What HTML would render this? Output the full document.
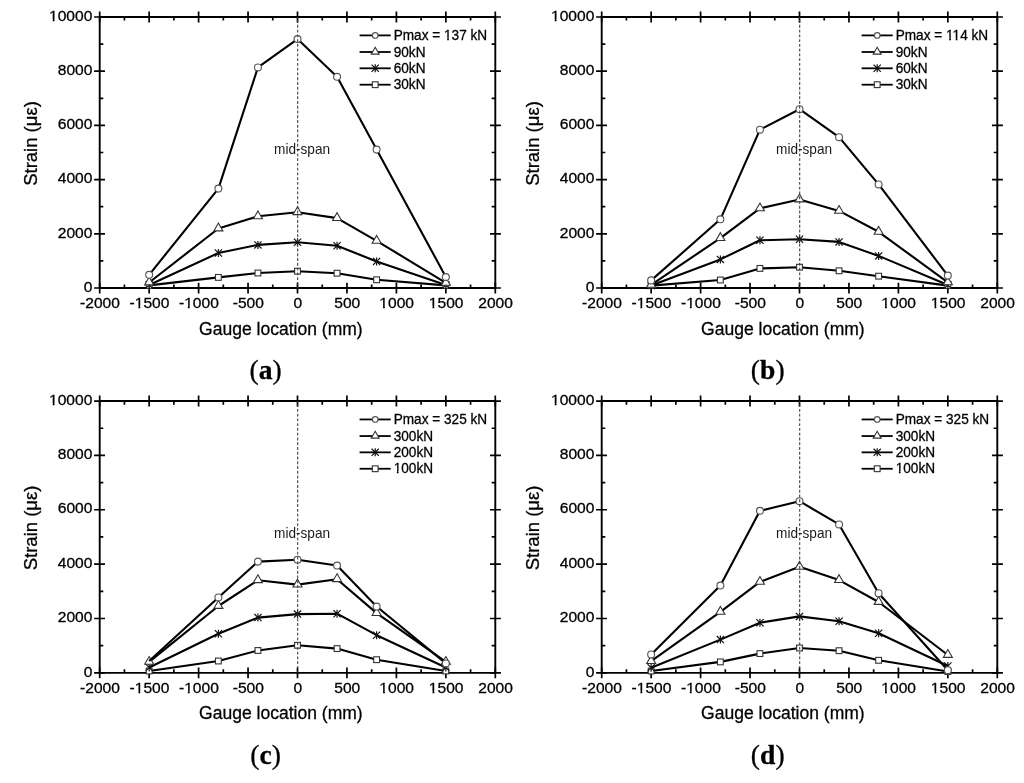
<!DOCTYPE html>
<html><head><meta charset="utf-8"><style>
html,body{margin:0;padding:0;background:#fff;}
svg{display:block;will-change:transform;}
text{font-family:"Liberation Sans", sans-serif;fill:#000;stroke:#000;stroke-width:0.3px;}
.tl{font-size:15.6px;}
.mid{font-size:13.9px;fill:#1a1a1a;stroke:none;}
.lgt{font-size:14.9px;}
.xt{font-size:18.3px;}
.yt{font-size:18.5px;}
.pl{font-family:"Liberation Serif", serif;font-weight:bold;font-size:27.6px;fill:#000;}
.pr{font-weight:normal;}
.ax{fill:none;stroke:#000;stroke-width:1.9;}
.tk{fill:none;stroke:#000;stroke-width:1.7;}
.ln{fill:none;stroke:#000;stroke-width:2.1;stroke-linejoin:round;}
.lg{fill:none;stroke:#000;stroke-width:1.8;}
.mk{fill:#fff;stroke:#333;stroke-width:1.1;}
.mc{stroke:#555;stroke-width:1.15;}
.st{fill:none;stroke:#111;stroke-width:1.2;}
.dash{stroke:#3a3a3a;stroke-width:1.05;stroke-dasharray:2.9 1.86;stroke-dashoffset:1.65;}
</style></head>
<body><svg width="1024" height="783" viewBox="0 0 1024 783">
<rect width="1024" height="783" fill="#fff"/>
<path d="M99.7 17H495.3V288H99.7Z" class="ax"/>
<path d="M99.7 282.7V293.5M99.7 11.4V22.5M149.15 282.7V293.5M149.15 11.4V22.5M198.6 282.7V293.5M198.6 11.4V22.5M248.05 282.7V293.5M248.05 11.4V22.5M297.5 282.7V293.5M297.5 11.4V22.5M346.95 282.7V293.5M346.95 11.4V22.5M396.4 282.7V293.5M396.4 11.4V22.5M445.85 282.7V293.5M445.85 11.4V22.5M495.3 282.7V293.5M495.3 11.4V22.5M124.43 288V284.4M124.43 17V20.6M173.88 288V284.4M173.88 17V20.6M223.32 288V284.4M223.32 17V20.6M272.78 288V284.4M272.78 17V20.6M322.23 288V284.4M322.23 17V20.6M371.68 288V284.4M371.68 17V20.6M421.12 288V284.4M421.12 17V20.6M470.57 288V284.4M470.57 17V20.6M94.1 288H105M490 288H500.9M94.1 233.8H105M490 233.8H500.9M94.1 179.6H105M490 179.6H500.9M94.1 125.4H105M490 125.4H500.9M94.1 71.2H105M490 71.2H500.9M94.1 17H105M490 17H500.9M99.7 260.9H103.3M495.3 260.9H491.7M99.7 206.7H103.3M495.3 206.7H491.7M99.7 152.5H103.3M495.3 152.5H491.7M99.7 98.3H103.3M495.3 98.3H491.7M99.7 44.1H103.3M495.3 44.1H491.7" class="tk"/>
<text transform="translate(100 308.4) scale(1.0 0.98)" class="tl" text-anchor="middle">-2000</text>
<text transform="translate(149.45 308.4) scale(1.0 0.98)" class="tl" text-anchor="middle">-1500</text>
<text transform="translate(198.9 308.4) scale(1.0 0.98)" class="tl" text-anchor="middle">-1000</text>
<text transform="translate(248.35 308.4) scale(1.0 0.98)" class="tl" text-anchor="middle">-500</text>
<text transform="translate(297.8 308.4) scale(1.0 0.98)" class="tl" text-anchor="middle">0</text>
<text transform="translate(347.25 308.4) scale(1.0 0.98)" class="tl" text-anchor="middle">500</text>
<text transform="translate(396.7 308.4) scale(1.0 0.98)" class="tl" text-anchor="middle">1000</text>
<text transform="translate(446.15 308.4) scale(1.0 0.98)" class="tl" text-anchor="middle">1500</text>
<text transform="translate(495.6 308.4) scale(1.0 0.98)" class="tl" text-anchor="middle">2000</text>
<text transform="translate(92.4 291.7) scale(1.0 0.98)" class="tl" text-anchor="end">0</text>
<text transform="translate(92.4 237.5) scale(1.0 0.98)" class="tl" text-anchor="end">2000</text>
<text transform="translate(92.4 183.3) scale(1.0 0.98)" class="tl" text-anchor="end">4000</text>
<text transform="translate(92.4 129.1) scale(1.0 0.98)" class="tl" text-anchor="end">6000</text>
<text transform="translate(92.4 74.9) scale(1.0 0.98)" class="tl" text-anchor="end">8000</text>
<text transform="translate(92.4 20.7) scale(1.0 0.98)" class="tl" text-anchor="end">10000</text>
<path d="M149.15 285.4L218.38 277.4L257.94 273L297.5 271.2L337.06 273.2L376.62 279.8L445.85 285.4" class="ln"/>
<rect x="146.25" y="282.5" width="5.8" height="5.8" class="mk"/>
<rect x="215.48" y="274.5" width="5.8" height="5.8" class="mk"/>
<rect x="255.04" y="270.1" width="5.8" height="5.8" class="mk"/>
<rect x="294.6" y="268.3" width="5.8" height="5.8" class="mk"/>
<rect x="334.16" y="270.3" width="5.8" height="5.8" class="mk"/>
<rect x="373.72" y="276.9" width="5.8" height="5.8" class="mk"/>
<rect x="442.95" y="282.5" width="5.8" height="5.8" class="mk"/>
<path d="M149.15 285L218.38 253L257.94 244.9L297.5 242.2L337.06 245.8L376.62 261.4L445.85 285" class="ln"/>
<path d="M145.55 281.4L152.75 288.6M152.75 281.4L145.55 288.6M149.15 281L149.15 289" class="st"/>
<path d="M214.78 249.4L221.98 256.6M221.98 249.4L214.78 256.6M218.38 249L218.38 257" class="st"/>
<path d="M254.34 241.3L261.54 248.5M261.54 241.3L254.34 248.5M257.94 240.9L257.94 248.9" class="st"/>
<path d="M293.9 238.6L301.1 245.8M301.1 238.6L293.9 245.8M297.5 238.2L297.5 246.2" class="st"/>
<path d="M333.46 242.2L340.66 249.4M340.66 242.2L333.46 249.4M337.06 241.8L337.06 249.8" class="st"/>
<path d="M373.02 257.8L380.22 265M380.22 257.8L373.02 265M376.62 257.4L376.62 265.4" class="st"/>
<path d="M442.25 281.4L449.45 288.6M449.45 281.4L442.25 288.6M445.85 281L445.85 289" class="st"/>
<path d="M149.15 282.5L218.38 228.5L257.94 216.3L297.5 212.2L337.06 218.1L376.62 240.8L445.85 282.9" class="ln"/>
<path d="M149.15 277.1L153.65 284.9L144.65 284.9Z" class="mk"/>
<path d="M218.38 223.1L222.88 230.9L213.88 230.9Z" class="mk"/>
<path d="M257.94 210.9L262.44 218.7L253.44 218.7Z" class="mk"/>
<path d="M297.5 206.8L302 214.6L293 214.6Z" class="mk"/>
<path d="M337.06 212.7L341.56 220.5L332.56 220.5Z" class="mk"/>
<path d="M376.62 235.4L381.12 243.2L372.12 243.2Z" class="mk"/>
<path d="M445.85 277.5L450.35 285.3L441.35 285.3Z" class="mk"/>
<path d="M149.15 274.8L218.38 188.6L257.94 67.4L297.5 39.1L337.06 76.8L376.62 149.6L445.85 277" class="ln"/>
<circle cx="149.15" cy="274.8" r="3.45" class="mk mc"/>
<circle cx="218.38" cy="188.6" r="3.45" class="mk mc"/>
<circle cx="257.94" cy="67.4" r="3.45" class="mk mc"/>
<circle cx="297.5" cy="39.1" r="3.45" class="mk mc"/>
<circle cx="337.06" cy="76.8" r="3.45" class="mk mc"/>
<circle cx="376.62" cy="149.6" r="3.45" class="mk mc"/>
<circle cx="445.85" cy="277" r="3.45" class="mk mc"/>
<line x1="297.7" y1="17" x2="297.7" y2="288" class="dash"/>
<text transform="translate(274.1 153.8) scale(0.98 1.0)" class="mid">mid-span</text>
<path d="M359.6 35.4H390.7" class="lg"/>
<circle cx="375.2" cy="35.4" r="2.83" class="mk mc"/>
<text transform="translate(393.7 39.9) scale(0.914 1.0)" class="lgt">Pmax = 137 kN</text>
<path d="M359.6 52H390.7" class="lg"/>
<path d="M375.2 47.25L379.16 54.11L371.24 54.11Z" class="mk"/>
<text transform="translate(393.7 56.5) scale(0.914 1.0)" class="lgt">90kN</text>
<path d="M359.6 68.3H390.7" class="lg"/>
<path d="M371.6 64.7L378.8 71.9M378.8 64.7L371.6 71.9M375.2 64.3L375.2 72.3" class="st"/>
<text transform="translate(393.7 72.8) scale(0.914 1.0)" class="lgt">60kN</text>
<path d="M359.6 84.7H390.7" class="lg"/>
<rect x="372.3" y="81.8" width="5.8" height="5.8" class="mk"/>
<text transform="translate(393.7 89.2) scale(0.914 1.0)" class="lgt">30kN</text>
<text transform="translate(199.1 334.7) scale(0.958 1.0)" class="xt">Gauge location (mm)</text>
<text transform="translate(36.5 143.5) rotate(-90)" class="yt" text-anchor="middle">Strain (με)</text>
<text x="265.7" y="379.2" class="pl" text-anchor="middle"><tspan class="pr">(</tspan>a<tspan class="pr">)</tspan></text>
<path d="M601.7 17H997.3V288H601.7Z" class="ax"/>
<path d="M601.7 282.7V293.5M601.7 11.4V22.5M651.15 282.7V293.5M651.15 11.4V22.5M700.6 282.7V293.5M700.6 11.4V22.5M750.05 282.7V293.5M750.05 11.4V22.5M799.5 282.7V293.5M799.5 11.4V22.5M848.95 282.7V293.5M848.95 11.4V22.5M898.4 282.7V293.5M898.4 11.4V22.5M947.85 282.7V293.5M947.85 11.4V22.5M997.3 282.7V293.5M997.3 11.4V22.5M626.43 288V284.4M626.43 17V20.6M675.88 288V284.4M675.88 17V20.6M725.33 288V284.4M725.33 17V20.6M774.77 288V284.4M774.77 17V20.6M824.23 288V284.4M824.23 17V20.6M873.67 288V284.4M873.67 17V20.6M923.12 288V284.4M923.12 17V20.6M972.57 288V284.4M972.57 17V20.6M596.1 288H607M992 288H1002.9M596.1 233.8H607M992 233.8H1002.9M596.1 179.6H607M992 179.6H1002.9M596.1 125.4H607M992 125.4H1002.9M596.1 71.2H607M992 71.2H1002.9M596.1 17H607M992 17H1002.9M601.7 260.9H605.3M997.3 260.9H993.7M601.7 206.7H605.3M997.3 206.7H993.7M601.7 152.5H605.3M997.3 152.5H993.7M601.7 98.3H605.3M997.3 98.3H993.7M601.7 44.1H605.3M997.3 44.1H993.7" class="tk"/>
<text transform="translate(602 308.4) scale(1.0 0.98)" class="tl" text-anchor="middle">-2000</text>
<text transform="translate(651.45 308.4) scale(1.0 0.98)" class="tl" text-anchor="middle">-1500</text>
<text transform="translate(700.9 308.4) scale(1.0 0.98)" class="tl" text-anchor="middle">-1000</text>
<text transform="translate(750.35 308.4) scale(1.0 0.98)" class="tl" text-anchor="middle">-500</text>
<text transform="translate(799.8 308.4) scale(1.0 0.98)" class="tl" text-anchor="middle">0</text>
<text transform="translate(849.25 308.4) scale(1.0 0.98)" class="tl" text-anchor="middle">500</text>
<text transform="translate(898.7 308.4) scale(1.0 0.98)" class="tl" text-anchor="middle">1000</text>
<text transform="translate(948.15 308.4) scale(1.0 0.98)" class="tl" text-anchor="middle">1500</text>
<text transform="translate(997.6 308.4) scale(1.0 0.98)" class="tl" text-anchor="middle">2000</text>
<text transform="translate(594.4 291.7) scale(1.0 0.98)" class="tl" text-anchor="end">0</text>
<text transform="translate(594.4 237.5) scale(1.0 0.98)" class="tl" text-anchor="end">2000</text>
<text transform="translate(594.4 183.3) scale(1.0 0.98)" class="tl" text-anchor="end">4000</text>
<text transform="translate(594.4 129.1) scale(1.0 0.98)" class="tl" text-anchor="end">6000</text>
<text transform="translate(594.4 74.9) scale(1.0 0.98)" class="tl" text-anchor="end">8000</text>
<text transform="translate(594.4 20.7) scale(1.0 0.98)" class="tl" text-anchor="end">10000</text>
<path d="M651.15 285.6L720.38 280L759.94 268.4L799.5 267.2L839.06 270.8L878.62 276.2L947.85 285.6" class="ln"/>
<rect x="648.25" y="282.7" width="5.8" height="5.8" class="mk"/>
<rect x="717.48" y="277.1" width="5.8" height="5.8" class="mk"/>
<rect x="757.04" y="265.5" width="5.8" height="5.8" class="mk"/>
<rect x="796.6" y="264.3" width="5.8" height="5.8" class="mk"/>
<rect x="836.16" y="267.9" width="5.8" height="5.8" class="mk"/>
<rect x="875.72" y="273.3" width="5.8" height="5.8" class="mk"/>
<rect x="944.95" y="282.7" width="5.8" height="5.8" class="mk"/>
<path d="M651.15 285.5L720.38 259.4L759.94 240.3L799.5 239.2L839.06 241.9L878.62 255.9L947.85 285" class="ln"/>
<path d="M647.55 281.9L654.75 289.1M654.75 281.9L647.55 289.1M651.15 281.5L651.15 289.5" class="st"/>
<path d="M716.78 255.8L723.98 263M723.98 255.8L716.78 263M720.38 255.4L720.38 263.4" class="st"/>
<path d="M756.34 236.7L763.54 243.9M763.54 236.7L756.34 243.9M759.94 236.3L759.94 244.3" class="st"/>
<path d="M795.9 235.6L803.1 242.8M803.1 235.6L795.9 242.8M799.5 235.2L799.5 243.2" class="st"/>
<path d="M835.46 238.3L842.66 245.5M842.66 238.3L835.46 245.5M839.06 237.9L839.06 245.9" class="st"/>
<path d="M875.02 252.3L882.22 259.5M882.22 252.3L875.02 259.5M878.62 251.9L878.62 259.9" class="st"/>
<path d="M944.25 281.4L951.45 288.6M951.45 281.4L944.25 288.6M947.85 281L947.85 289" class="st"/>
<path d="M651.15 284.9L720.38 238.1L759.94 208.4L799.5 199.5L839.06 210.9L878.62 231.8L947.85 282.4" class="ln"/>
<path d="M651.15 279.5L655.65 287.3L646.65 287.3Z" class="mk"/>
<path d="M720.38 232.7L724.88 240.5L715.88 240.5Z" class="mk"/>
<path d="M759.94 203L764.44 210.8L755.44 210.8Z" class="mk"/>
<path d="M799.5 194.1L804 201.9L795 201.9Z" class="mk"/>
<path d="M839.06 205.5L843.56 213.3L834.56 213.3Z" class="mk"/>
<path d="M878.62 226.4L883.12 234.2L874.12 234.2Z" class="mk"/>
<path d="M947.85 277L952.35 284.8L943.35 284.8Z" class="mk"/>
<path d="M651.15 280.4L720.38 219.3L759.94 129.7L799.5 109.2L839.06 137.2L878.62 184.4L947.85 275.6" class="ln"/>
<circle cx="651.15" cy="280.4" r="3.45" class="mk mc"/>
<circle cx="720.38" cy="219.3" r="3.45" class="mk mc"/>
<circle cx="759.94" cy="129.7" r="3.45" class="mk mc"/>
<circle cx="799.5" cy="109.2" r="3.45" class="mk mc"/>
<circle cx="839.06" cy="137.2" r="3.45" class="mk mc"/>
<circle cx="878.62" cy="184.4" r="3.45" class="mk mc"/>
<circle cx="947.85" cy="275.6" r="3.45" class="mk mc"/>
<line x1="799.7" y1="17" x2="799.7" y2="288" class="dash"/>
<text transform="translate(776.1 153.8) scale(0.98 1.0)" class="mid">mid-span</text>
<path d="M861.6 35.4H892.7" class="lg"/>
<circle cx="877.2" cy="35.4" r="2.83" class="mk mc"/>
<text transform="translate(895.7 39.9) scale(0.914 1.0)" class="lgt">Pmax = 114 kN</text>
<path d="M861.6 52H892.7" class="lg"/>
<path d="M877.2 47.25L881.16 54.11L873.24 54.11Z" class="mk"/>
<text transform="translate(895.7 56.5) scale(0.914 1.0)" class="lgt">90kN</text>
<path d="M861.6 68.3H892.7" class="lg"/>
<path d="M873.6 64.7L880.8 71.9M880.8 64.7L873.6 71.9M877.2 64.3L877.2 72.3" class="st"/>
<text transform="translate(895.7 72.8) scale(0.914 1.0)" class="lgt">60kN</text>
<path d="M861.6 84.7H892.7" class="lg"/>
<rect x="874.3" y="81.8" width="5.8" height="5.8" class="mk"/>
<text transform="translate(895.7 89.2) scale(0.914 1.0)" class="lgt">30kN</text>
<text transform="translate(701.1 334.7) scale(0.958 1.0)" class="xt">Gauge location (mm)</text>
<text transform="translate(538.5 143.5) rotate(-90)" class="yt" text-anchor="middle">Strain (με)</text>
<text x="767.7" y="379.2" class="pl" text-anchor="middle"><tspan class="pr">(</tspan>b<tspan class="pr">)</tspan></text>
<path d="M99.7 401.05H495.3V672.85H99.7Z" class="ax"/>
<path d="M99.7 667.55V678.35M99.7 395.45V406.55M149.15 667.55V678.35M149.15 395.45V406.55M198.6 667.55V678.35M198.6 395.45V406.55M248.05 667.55V678.35M248.05 395.45V406.55M297.5 667.55V678.35M297.5 395.45V406.55M346.95 667.55V678.35M346.95 395.45V406.55M396.4 667.55V678.35M396.4 395.45V406.55M445.85 667.55V678.35M445.85 395.45V406.55M495.3 667.55V678.35M495.3 395.45V406.55M124.43 672.85V669.25M124.43 401.05V404.65M173.88 672.85V669.25M173.88 401.05V404.65M223.32 672.85V669.25M223.32 401.05V404.65M272.78 672.85V669.25M272.78 401.05V404.65M322.23 672.85V669.25M322.23 401.05V404.65M371.68 672.85V669.25M371.68 401.05V404.65M421.12 672.85V669.25M421.12 401.05V404.65M470.57 672.85V669.25M470.57 401.05V404.65M94.1 672.85H105M490 672.85H500.9M94.1 618.49H105M490 618.49H500.9M94.1 564.13H105M490 564.13H500.9M94.1 509.77H105M490 509.77H500.9M94.1 455.41H105M490 455.41H500.9M94.1 401.05H105M490 401.05H500.9M99.7 645.67H103.3M495.3 645.67H491.7M99.7 591.31H103.3M495.3 591.31H491.7M99.7 536.95H103.3M495.3 536.95H491.7M99.7 482.59H103.3M495.3 482.59H491.7M99.7 428.23H103.3M495.3 428.23H491.7" class="tk"/>
<text transform="translate(100 692.75) scale(1.0 0.98)" class="tl" text-anchor="middle">-2000</text>
<text transform="translate(149.45 692.75) scale(1.0 0.98)" class="tl" text-anchor="middle">-1500</text>
<text transform="translate(198.9 692.75) scale(1.0 0.98)" class="tl" text-anchor="middle">-1000</text>
<text transform="translate(248.35 692.75) scale(1.0 0.98)" class="tl" text-anchor="middle">-500</text>
<text transform="translate(297.8 692.75) scale(1.0 0.98)" class="tl" text-anchor="middle">0</text>
<text transform="translate(347.25 692.75) scale(1.0 0.98)" class="tl" text-anchor="middle">500</text>
<text transform="translate(396.7 692.75) scale(1.0 0.98)" class="tl" text-anchor="middle">1000</text>
<text transform="translate(446.15 692.75) scale(1.0 0.98)" class="tl" text-anchor="middle">1500</text>
<text transform="translate(495.6 692.75) scale(1.0 0.98)" class="tl" text-anchor="middle">2000</text>
<text transform="translate(92.4 676.55) scale(1.0 0.98)" class="tl" text-anchor="end">0</text>
<text transform="translate(92.4 622.19) scale(1.0 0.98)" class="tl" text-anchor="end">2000</text>
<text transform="translate(92.4 567.83) scale(1.0 0.98)" class="tl" text-anchor="end">4000</text>
<text transform="translate(92.4 513.47) scale(1.0 0.98)" class="tl" text-anchor="end">6000</text>
<text transform="translate(92.4 459.11) scale(1.0 0.98)" class="tl" text-anchor="end">8000</text>
<text transform="translate(92.4 404.75) scale(1.0 0.98)" class="tl" text-anchor="end">10000</text>
<path d="M149.15 671L218.38 661L257.94 650.5L297.5 645.3L337.06 648.6L376.62 659.7L445.85 671" class="ln"/>
<rect x="146.25" y="668.1" width="5.8" height="5.8" class="mk"/>
<rect x="215.48" y="658.1" width="5.8" height="5.8" class="mk"/>
<rect x="255.04" y="647.6" width="5.8" height="5.8" class="mk"/>
<rect x="294.6" y="642.4" width="5.8" height="5.8" class="mk"/>
<rect x="334.16" y="645.7" width="5.8" height="5.8" class="mk"/>
<rect x="373.72" y="656.8" width="5.8" height="5.8" class="mk"/>
<rect x="442.95" y="668.1" width="5.8" height="5.8" class="mk"/>
<path d="M149.15 667.5L218.38 633.8L257.94 617.6L297.5 614.1L337.06 613.7L376.62 635.2L445.85 667.5" class="ln"/>
<path d="M145.55 663.9L152.75 671.1M152.75 663.9L145.55 671.1M149.15 663.5L149.15 671.5" class="st"/>
<path d="M214.78 630.2L221.98 637.4M221.98 630.2L214.78 637.4M218.38 629.8L218.38 637.8" class="st"/>
<path d="M254.34 614L261.54 621.2M261.54 614L254.34 621.2M257.94 613.6L257.94 621.6" class="st"/>
<path d="M293.9 610.5L301.1 617.7M301.1 610.5L293.9 617.7M297.5 610.1L297.5 618.1" class="st"/>
<path d="M333.46 610.1L340.66 617.3M340.66 610.1L333.46 617.3M337.06 609.7L337.06 617.7" class="st"/>
<path d="M373.02 631.6L380.22 638.8M380.22 631.6L373.02 638.8M376.62 631.2L376.62 639.2" class="st"/>
<path d="M442.25 663.9L449.45 671.1M449.45 663.9L442.25 671.1M445.85 663.5L445.85 671.5" class="st"/>
<path d="M149.15 661.9L218.38 606L257.94 580.2L297.5 584.6L337.06 579.2L376.62 613.1L445.85 661.9" class="ln"/>
<path d="M149.15 656.5L153.65 664.3L144.65 664.3Z" class="mk"/>
<path d="M218.38 600.6L222.88 608.4L213.88 608.4Z" class="mk"/>
<path d="M257.94 574.8L262.44 582.6L253.44 582.6Z" class="mk"/>
<path d="M297.5 579.2L302 587L293 587Z" class="mk"/>
<path d="M337.06 573.8L341.56 581.6L332.56 581.6Z" class="mk"/>
<path d="M376.62 607.7L381.12 615.5L372.12 615.5Z" class="mk"/>
<path d="M445.85 656.5L450.35 664.3L441.35 664.3Z" class="mk"/>
<path d="M149.15 661L218.38 597.4L257.94 561.6L297.5 559.7L337.06 565.5L376.62 606.5L445.85 663.4" class="ln"/>
<circle cx="218.38" cy="597.4" r="3.45" class="mk mc"/>
<circle cx="257.94" cy="561.6" r="3.45" class="mk mc"/>
<circle cx="297.5" cy="559.7" r="3.45" class="mk mc"/>
<circle cx="337.06" cy="565.5" r="3.45" class="mk mc"/>
<circle cx="376.62" cy="606.5" r="3.45" class="mk mc"/>
<circle cx="445.85" cy="663.4" r="3.45" class="mk mc"/>
<line x1="297.7" y1="401.05" x2="297.7" y2="672.85" class="dash"/>
<text transform="translate(274.1 537.85) scale(0.98 1.0)" class="mid">mid-span</text>
<path d="M359.6 419.45H390.7" class="lg"/>
<circle cx="375.2" cy="419.45" r="2.83" class="mk mc"/>
<text transform="translate(393.7 423.95) scale(0.914 1.0)" class="lgt">Pmax = 325 kN</text>
<path d="M359.6 436.05H390.7" class="lg"/>
<path d="M375.2 431.3L379.16 438.16L371.24 438.16Z" class="mk"/>
<text transform="translate(393.7 440.55) scale(0.914 1.0)" class="lgt">300kN</text>
<path d="M359.6 452.35H390.7" class="lg"/>
<path d="M371.6 448.75L378.8 455.95M378.8 448.75L371.6 455.95M375.2 448.35L375.2 456.35" class="st"/>
<text transform="translate(393.7 456.85) scale(0.914 1.0)" class="lgt">200kN</text>
<path d="M359.6 468.75H390.7" class="lg"/>
<rect x="372.3" y="465.85" width="5.8" height="5.8" class="mk"/>
<text transform="translate(393.7 473.25) scale(0.914 1.0)" class="lgt">100kN</text>
<text transform="translate(199.1 719.05) scale(0.958 1.0)" class="xt">Gauge location (mm)</text>
<text transform="translate(36.5 527.95) rotate(-90)" class="yt" text-anchor="middle">Strain (με)</text>
<text x="265.7" y="764.05" class="pl" text-anchor="middle"><tspan class="pr">(</tspan>c<tspan class="pr">)</tspan></text>
<path d="M601.7 401.05H997.3V672.85H601.7Z" class="ax"/>
<path d="M601.7 667.55V678.35M601.7 395.45V406.55M651.15 667.55V678.35M651.15 395.45V406.55M700.6 667.55V678.35M700.6 395.45V406.55M750.05 667.55V678.35M750.05 395.45V406.55M799.5 667.55V678.35M799.5 395.45V406.55M848.95 667.55V678.35M848.95 395.45V406.55M898.4 667.55V678.35M898.4 395.45V406.55M947.85 667.55V678.35M947.85 395.45V406.55M997.3 667.55V678.35M997.3 395.45V406.55M626.43 672.85V669.25M626.43 401.05V404.65M675.88 672.85V669.25M675.88 401.05V404.65M725.33 672.85V669.25M725.33 401.05V404.65M774.77 672.85V669.25M774.77 401.05V404.65M824.23 672.85V669.25M824.23 401.05V404.65M873.67 672.85V669.25M873.67 401.05V404.65M923.12 672.85V669.25M923.12 401.05V404.65M972.57 672.85V669.25M972.57 401.05V404.65M596.1 672.85H607M992 672.85H1002.9M596.1 618.49H607M992 618.49H1002.9M596.1 564.13H607M992 564.13H1002.9M596.1 509.77H607M992 509.77H1002.9M596.1 455.41H607M992 455.41H1002.9M596.1 401.05H607M992 401.05H1002.9M601.7 645.67H605.3M997.3 645.67H993.7M601.7 591.31H605.3M997.3 591.31H993.7M601.7 536.95H605.3M997.3 536.95H993.7M601.7 482.59H605.3M997.3 482.59H993.7M601.7 428.23H605.3M997.3 428.23H993.7" class="tk"/>
<text transform="translate(602 692.75) scale(1.0 0.98)" class="tl" text-anchor="middle">-2000</text>
<text transform="translate(651.45 692.75) scale(1.0 0.98)" class="tl" text-anchor="middle">-1500</text>
<text transform="translate(700.9 692.75) scale(1.0 0.98)" class="tl" text-anchor="middle">-1000</text>
<text transform="translate(750.35 692.75) scale(1.0 0.98)" class="tl" text-anchor="middle">-500</text>
<text transform="translate(799.8 692.75) scale(1.0 0.98)" class="tl" text-anchor="middle">0</text>
<text transform="translate(849.25 692.75) scale(1.0 0.98)" class="tl" text-anchor="middle">500</text>
<text transform="translate(898.7 692.75) scale(1.0 0.98)" class="tl" text-anchor="middle">1000</text>
<text transform="translate(948.15 692.75) scale(1.0 0.98)" class="tl" text-anchor="middle">1500</text>
<text transform="translate(997.6 692.75) scale(1.0 0.98)" class="tl" text-anchor="middle">2000</text>
<text transform="translate(594.4 676.55) scale(1.0 0.98)" class="tl" text-anchor="end">0</text>
<text transform="translate(594.4 622.19) scale(1.0 0.98)" class="tl" text-anchor="end">2000</text>
<text transform="translate(594.4 567.83) scale(1.0 0.98)" class="tl" text-anchor="end">4000</text>
<text transform="translate(594.4 513.47) scale(1.0 0.98)" class="tl" text-anchor="end">6000</text>
<text transform="translate(594.4 459.11) scale(1.0 0.98)" class="tl" text-anchor="end">8000</text>
<text transform="translate(594.4 404.75) scale(1.0 0.98)" class="tl" text-anchor="end">10000</text>
<path d="M651.15 671L720.38 661.9L759.94 653.6L799.5 648L839.06 650.7L878.62 660.3L947.85 671.5" class="ln"/>
<rect x="648.25" y="668.1" width="5.8" height="5.8" class="mk"/>
<rect x="717.48" y="659" width="5.8" height="5.8" class="mk"/>
<rect x="757.04" y="650.7" width="5.8" height="5.8" class="mk"/>
<rect x="796.6" y="645.1" width="5.8" height="5.8" class="mk"/>
<rect x="836.16" y="647.8" width="5.8" height="5.8" class="mk"/>
<rect x="875.72" y="657.4" width="5.8" height="5.8" class="mk"/>
<rect x="944.95" y="668.6" width="5.8" height="5.8" class="mk"/>
<path d="M651.15 667.8L720.38 639.6L759.94 622.7L799.5 616.4L839.06 621.3L878.62 633.3L947.85 666" class="ln"/>
<path d="M647.55 664.2L654.75 671.4M654.75 664.2L647.55 671.4M651.15 663.8L651.15 671.8" class="st"/>
<path d="M716.78 636L723.98 643.2M723.98 636L716.78 643.2M720.38 635.6L720.38 643.6" class="st"/>
<path d="M756.34 619.1L763.54 626.3M763.54 619.1L756.34 626.3M759.94 618.7L759.94 626.7" class="st"/>
<path d="M795.9 612.8L803.1 620M803.1 612.8L795.9 620M799.5 612.4L799.5 620.4" class="st"/>
<path d="M835.46 617.7L842.66 624.9M842.66 617.7L835.46 624.9M839.06 617.3L839.06 625.3" class="st"/>
<path d="M875.02 629.7L882.22 636.9M882.22 629.7L875.02 636.9M878.62 629.3L878.62 637.3" class="st"/>
<path d="M944.25 662.4L951.45 669.6M951.45 662.4L944.25 669.6M947.85 662L947.85 670" class="st"/>
<path d="M651.15 661.1L720.38 611.8L759.94 581.9L799.5 566.8L839.06 580.1L878.62 602L947.85 655" class="ln"/>
<path d="M651.15 655.7L655.65 663.5L646.65 663.5Z" class="mk"/>
<path d="M720.38 606.4L724.88 614.2L715.88 614.2Z" class="mk"/>
<path d="M759.94 576.5L764.44 584.3L755.44 584.3Z" class="mk"/>
<path d="M799.5 561.4L804 569.2L795 569.2Z" class="mk"/>
<path d="M839.06 574.7L843.56 582.5L834.56 582.5Z" class="mk"/>
<path d="M878.62 596.6L883.12 604.4L874.12 604.4Z" class="mk"/>
<path d="M947.85 649.6L952.35 657.4L943.35 657.4Z" class="mk"/>
<path d="M651.15 654.4L720.38 585.5L759.94 510.8L799.5 501.2L839.06 524.4L878.62 593.2L947.85 670.2" class="ln"/>
<circle cx="651.15" cy="654.4" r="3.45" class="mk mc"/>
<circle cx="720.38" cy="585.5" r="3.45" class="mk mc"/>
<circle cx="759.94" cy="510.8" r="3.45" class="mk mc"/>
<circle cx="799.5" cy="501.2" r="3.45" class="mk mc"/>
<circle cx="839.06" cy="524.4" r="3.45" class="mk mc"/>
<circle cx="878.62" cy="593.2" r="3.45" class="mk mc"/>
<circle cx="947.85" cy="670.2" r="3.45" class="mk mc"/>
<line x1="799.7" y1="401.05" x2="799.7" y2="672.85" class="dash"/>
<text transform="translate(776.1 537.85) scale(0.98 1.0)" class="mid">mid-span</text>
<path d="M861.6 419.45H892.7" class="lg"/>
<circle cx="877.2" cy="419.45" r="2.83" class="mk mc"/>
<text transform="translate(895.7 423.95) scale(0.914 1.0)" class="lgt">Pmax = 325 kN</text>
<path d="M861.6 436.05H892.7" class="lg"/>
<path d="M877.2 431.3L881.16 438.16L873.24 438.16Z" class="mk"/>
<text transform="translate(895.7 440.55) scale(0.914 1.0)" class="lgt">300kN</text>
<path d="M861.6 452.35H892.7" class="lg"/>
<path d="M873.6 448.75L880.8 455.95M880.8 448.75L873.6 455.95M877.2 448.35L877.2 456.35" class="st"/>
<text transform="translate(895.7 456.85) scale(0.914 1.0)" class="lgt">200kN</text>
<path d="M861.6 468.75H892.7" class="lg"/>
<rect x="874.3" y="465.85" width="5.8" height="5.8" class="mk"/>
<text transform="translate(895.7 473.25) scale(0.914 1.0)" class="lgt">100kN</text>
<text transform="translate(701.1 719.05) scale(0.958 1.0)" class="xt">Gauge location (mm)</text>
<text transform="translate(538.5 527.95) rotate(-90)" class="yt" text-anchor="middle">Strain (με)</text>
<text x="767.7" y="764.05" class="pl" text-anchor="middle"><tspan class="pr">(</tspan>d<tspan class="pr">)</tspan></text>
<g fill="#fff"><rect x="135.00" y="306.00" width="3.38" height="3.00"/><rect x="140.25" y="306.00" width="3.75" height="3.00"/><rect x="184.00" y="306.00" width="3.83" height="3.00"/><rect x="189.70" y="306.00" width="3.30" height="3.00"/><rect x="379.00" y="306.00" width="4.03" height="3.00"/><rect x="384.91" y="306.00" width="3.09" height="3.00"/><rect x="429.00" y="306.00" width="3.48" height="3.00"/><rect x="434.36" y="306.00" width="3.64" height="3.00"/><rect x="49.00" y="19.00" width="3.70" height="3.00"/><rect x="54.58" y="19.00" width="3.42" height="3.00"/><rect x="444.00" y="38.00" width="3.17" height="3.00"/><rect x="448.88" y="38.00" width="3.12" height="3.00"/><rect x="637.00" y="306.00" width="3.38" height="3.00"/><rect x="642.25" y="306.00" width="3.75" height="3.00"/><rect x="686.00" y="306.00" width="3.83" height="3.00"/><rect x="691.70" y="306.00" width="3.30" height="3.00"/><rect x="881.00" y="306.00" width="4.03" height="3.00"/><rect x="886.91" y="306.00" width="3.09" height="3.00"/><rect x="931.00" y="306.00" width="3.48" height="3.00"/><rect x="936.36" y="306.00" width="3.64" height="3.00"/><rect x="551.00" y="19.00" width="3.70" height="3.00"/><rect x="556.58" y="19.00" width="3.42" height="3.00"/><rect x="946.00" y="38.00" width="3.17" height="3.00"/><rect x="950.88" y="38.00" width="3.12" height="3.00"/><rect x="952.00" y="38.00" width="3.73" height="3.00"/><rect x="957.44" y="38.00" width="2.56" height="3.00"/><rect x="135.00" y="691.00" width="3.38" height="3.00"/><rect x="140.25" y="691.00" width="3.75" height="3.00"/><rect x="184.00" y="691.00" width="3.83" height="3.00"/><rect x="189.70" y="691.00" width="3.30" height="3.00"/><rect x="379.00" y="691.00" width="4.03" height="3.00"/><rect x="384.91" y="691.00" width="3.09" height="3.00"/><rect x="429.00" y="691.00" width="3.48" height="3.00"/><rect x="434.36" y="691.00" width="3.64" height="3.00"/><rect x="49.00" y="403.00" width="3.70" height="3.00"/><rect x="54.58" y="403.00" width="3.42" height="3.00"/><rect x="394.00" y="471.00" width="2.88" height="3.00"/><rect x="398.58" y="471.00" width="3.42" height="3.00"/><rect x="637.00" y="691.00" width="3.38" height="3.00"/><rect x="642.25" y="691.00" width="3.75" height="3.00"/><rect x="686.00" y="691.00" width="3.83" height="3.00"/><rect x="691.70" y="691.00" width="3.30" height="3.00"/><rect x="881.00" y="691.00" width="4.03" height="3.00"/><rect x="886.91" y="691.00" width="3.09" height="3.00"/><rect x="931.00" y="691.00" width="3.48" height="3.00"/><rect x="936.36" y="691.00" width="3.64" height="3.00"/><rect x="551.00" y="403.00" width="3.70" height="3.00"/><rect x="556.58" y="403.00" width="3.42" height="3.00"/><rect x="896.00" y="471.00" width="2.88" height="3.00"/><rect x="900.58" y="471.00" width="3.42" height="3.00"/></g>
</svg></body></html>
